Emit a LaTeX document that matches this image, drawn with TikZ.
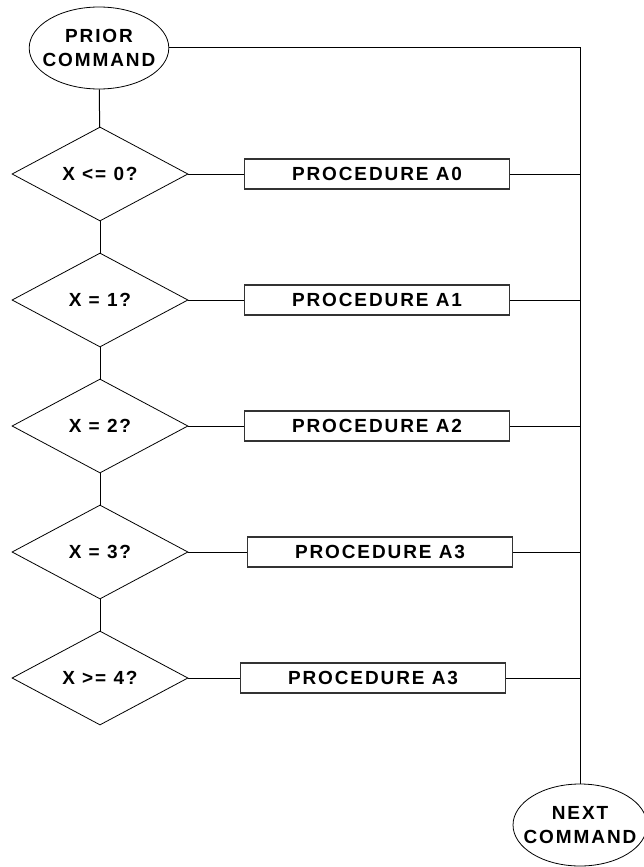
\documentclass[tikz,border=0pt]{standalone}
\usepackage{fontspec}
\setmainfont{Liberation Sans}[LetterSpace=10]
\usetikzlibrary{shapes.geometric}

\tikzset{
  term/.style={ellipse, draw, line width=0.8pt, minimum width=138pt, minimum height=82pt,
    inner ysep=0pt, inner xsep=-7pt, align=center, font=\fontsize{19}{24}\selectfont\bfseries},
  test/.style={diamond, draw, line width=0.8pt, minimum width=176pt, minimum height=94pt,
    inner sep=0pt, font=\fontsize{19}{22}\selectfont\bfseries},
  proc/.style={rectangle, draw=black!80, line width=1.3pt, minimum width=265pt, minimum height=30pt,
    inner sep=0pt, font=\fontsize{19}{22}\selectfont\bfseries},
}

\begin{document}
\begin{tikzpicture}[x=1pt, y=-1pt, line width=1pt]
    \useasboundingbox (0,0) rectangle (643,867);

    \node[term] (prior) at (99,48) {PRIOR\\COMMAND};
    \node[term, minimum width=130pt, inner xsep=-9pt] (next) at (580,825) {NEXT\\COMMAND};

    % tests
    \node[test] (x0) at (100,174) {X <= 0?};
    \node[test] (x1) at (100,300) {X = 1?};
    \node[test] (x2) at (100,426) {X = 2?};
    \node[test] (x3) at (100,552) {X = 3?};
    \node[test] (x4) at (100,678) {X >= 4?};

    % procedures
    \node[proc] (pa0) at (377,174) {PROCEDURE A0};
    \node[proc] (pa1) at (377,300) {PROCEDURE A1};
    \node[proc] (pa2) at (377,426) {PROCEDURE A2};
    \node[proc] (pa3) at (380,552) {PROCEDURE A3};
    \node[proc] (pa4) at (373,678) {PROCEDURE A3};

    \coordinate (j0) at (580,174);
    \coordinate (j1) at (580,300);
    \coordinate (j2) at (580,426);
    \coordinate (j3) at (580,552);
    \coordinate (j4) at (580,678);

    \draw (prior) -- (x0);
    \draw (x0) -- (x1);
    \draw (x1) -- (x2);
    \draw (x2) -- (x3);
    \draw (x3) -- (x4);

    \draw (x0) -- (pa0);
    \draw (x1) -- (pa1);
    \draw (x2) -- (pa2);
    \draw (x3) -- (pa3);
    \draw (x4) -- (pa4);

    \draw (pa0) -- (j0);
    \draw (pa1) -- (j1);
    \draw (pa2) -- (j2);
    \draw (pa3) -- (j3);
    \draw (pa4) -- (j4);

    \draw (prior) -| (next);
\end{tikzpicture}
\end{document}
